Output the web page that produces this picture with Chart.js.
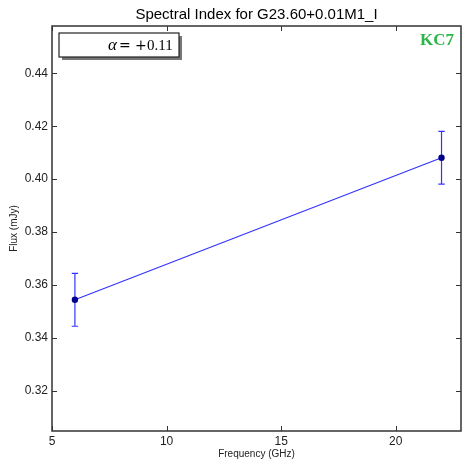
<!DOCTYPE html>
<html>
<head>
<meta charset="utf-8">
<script src="https://cdn.jsdelivr.net/npm/chart.js@4.4.1/dist/chart.umd.min.js"></script>
<style>
  html, body { margin: 0; padding: 0; background: #fff; overflow: hidden; }
  #wrap { width: 462px; height: 468px; }
</style>
</head>
<body>
<div id="wrap"><canvas id="c" width="462" height="468"></canvas></div>
<script>
// data
const freqs = [6, 22];
const flux = [0.3544, 0.4081];
const fluxErr = [0.0100, 0.0100];
const xTicks = [5, 10, 15, 20];
const yTicks = [0.32, 0.34, 0.36, 0.38, 0.40, 0.42, 0.44];

const titleText = 'Spectral Index for G23.60+0.01M1_I';
const alphaText = '0.11';
const tagText = 'KC7';

const spineColor = '#333';

// error bars, inward ticks, frame, title, legend box
const decor = {
  id: 'decor',
  afterDatasetsDraw(chart) {
    const { ctx, chartArea: a, scales: { x, y } } = chart;
    ctx.save();

    // error bars
    ctx.strokeStyle = '#3333ff';
    ctx.lineWidth = 1.2;
    freqs.forEach((f, i) => {
      const px = x.getPixelForValue(f);
      const top = y.getPixelForValue(flux[i] + fluxErr[i]);
      const bot = y.getPixelForValue(flux[i] - fluxErr[i]);
      ctx.beginPath();
      ctx.moveTo(px, top); ctx.lineTo(px, bot);
      ctx.moveTo(px - 3.2, top); ctx.lineTo(px + 3.2, top);
      ctx.moveTo(px - 3.2, bot); ctx.lineTo(px + 3.2, bot);
      ctx.stroke();
    });
    // redraw points on top
    ctx.fillStyle = '#00008b';
    freqs.forEach((f, i) => {
      ctx.beginPath();
      ctx.arc(x.getPixelForValue(f), y.getPixelForValue(flux[i]), 3.2, 0, Math.PI * 2);
      ctx.fill();
    });

    // frame
    ctx.strokeStyle = spineColor;
    ctx.lineWidth = 1.5;
    ctx.strokeRect(a.left, a.top, a.right - a.left, a.bottom - a.top);

    // inward ticks on all four sides
    ctx.lineWidth = 1;
    ctx.beginPath();
    xTicks.forEach(v => {
      const px = Math.round(x.getPixelForValue(v)) + 0.5;
      ctx.moveTo(px, a.bottom); ctx.lineTo(px, a.bottom - 5);
      ctx.moveTo(px, a.top); ctx.lineTo(px, a.top + 5);
    });
    yTicks.forEach(v => {
      const py = Math.round(y.getPixelForValue(v)) + 0.5;
      ctx.moveTo(a.left, py); ctx.lineTo(a.left + 5, py);
      ctx.moveTo(a.right, py); ctx.lineTo(a.right - 5, py);
    });
    ctx.stroke();

    // title
    ctx.fillStyle = '#000';
    ctx.font = '15px "Liberation Sans", Arial, sans-serif';
    ctx.textAlign = 'center';
    ctx.textBaseline = 'middle';
    ctx.fillText(titleText, (a.left + a.right) / 2, 15);

    // legend-like box with shadow
    const bx = a.left + 7, by = a.top + 7, bw = 120, bh = 24;
    ctx.fillStyle = '#777';
    ctx.fillRect(bx + 3, by + 3, bw, bh);
    ctx.fillStyle = '#fff';
    ctx.fillRect(bx, by, bw, bh);
    ctx.strokeStyle = '#222';
    ctx.lineWidth = 1.2;
    ctx.strokeRect(bx, by, bw, bh);

    // alpha = +0.11, laid out piece by piece like mathtext
    ctx.fillStyle = '#000';
    ctx.textAlign = 'left';
    ctx.textBaseline = 'alphabetic';
    const base = by + 17;
    ctx.font = 'italic 17px "Liberation Serif", serif';
    ctx.fillText('α', bx + 49, base);
    ctx.font = '14px "DejaVu Serif", serif';
    ctx.fillText('=', bx + 60, base);
    ctx.fillText('+', bx + 76, base);
    ctx.font = '15px "Liberation Serif", serif';
    ctx.fillText(alphaText, bx + 88, base);

    // tag
    ctx.fillStyle = '#2db54a';
    ctx.font = 'bold 17px "Liberation Serif", "Times New Roman", serif';
    ctx.textAlign = 'right';
    ctx.textBaseline = 'middle';
    ctx.fillText(tagText, a.right - 7, 41);

    ctx.restore();
  }
};

new Chart(document.getElementById('c'), {
  type: 'scatter',
  data: {
    datasets: [{
      data: freqs.map((f, i) => ({ x: f, y: flux[i] })),
      showLine: true,
      borderColor: '#3333ff',
      borderWidth: 1.2,
      pointRadius: 0,
      pointHoverRadius: 0
    }]
  },
  options: {
    responsive: false,
    animation: false,
    events: [],
    layout: { padding: { top: 26, right: 1, left: 0, bottom: 0 } },
    plugins: { legend: { display: false }, tooltip: { enabled: false } },
    scales: {
      x: {
        type: 'linear',
        min: 5,
        max: 22.85,
        afterFit(s) { s.height = 37; },
        afterBuildTicks(s) { s.ticks = xTicks.map(v => ({ value: v })); },
        grid: { display: false, drawTicks: false },
        border: { display: false },
        ticks: {
          color: '#222',
          padding: 3,
          maxRotation: 0,
          font: { family: '"Liberation Sans", Arial, sans-serif', size: 12 },
          callback: v => String(v)
        },
        title: {
          display: true,
          text: 'Frequency (GHz)',
          color: '#222',
          padding: { top: 0, bottom: 8 },
          font: { family: '"Liberation Sans", Arial, sans-serif', size: 10 }
        }
      },
      y: {
        type: 'linear',
        min: 0.3048,
        max: 0.4579,
        afterFit(s) { s.width = 52; },
        afterBuildTicks(s) { s.ticks = yTicks.map(v => ({ value: v })); },
        grid: { display: false, drawTicks: false },
        border: { display: false },
        ticks: {
          color: '#222',
          padding: 4,
          font: { family: '"Liberation Sans", Arial, sans-serif', size: 12 },
          callback: v => v.toFixed(2)
        },
        title: {
          display: true,
          text: 'Flux (mJy)',
          color: '#222',
          padding: { top: 8, bottom: 0 },
          font: { family: '"Liberation Sans", Arial, sans-serif', size: 10 }
        }
      }
    }
  },
  plugins: [decor]
});
</script>
</body>
</html>
